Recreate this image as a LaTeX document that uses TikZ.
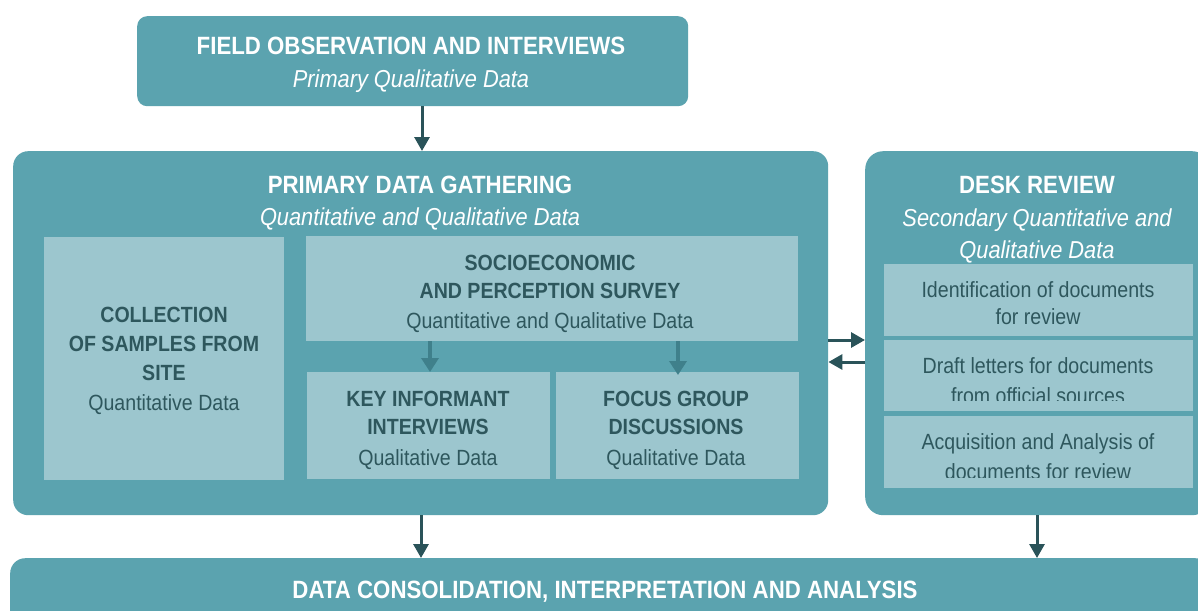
\documentclass[tikz,border=0pt]{standalone}
\usepackage{fontspec}
\setmainfont{Liberation Sans}[FakeStretch=0.89]
\usetikzlibrary{arrows.meta}
\definecolor{teal1}{HTML}{5BA3AF}
\definecolor{light1}{HTML}{9CC6CE}
\definecolor{dark1}{HTML}{2E575D}
\definecolor{arr1}{HTML}{2A5359}
\definecolor{arr2}{HTML}{3F808B}
\tikzset{
  outerbox/.style={fill=teal1, draw=none, rounded corners=#1, inner sep=0pt, anchor=north west},
  outerbox/.default=12pt,
  innerbox/.style={fill=light1, draw=none, inner sep=0pt, anchor=north west},
  wt/.style={text=white, anchor=base, inner sep=0pt, font=\fontsize{25}{30}\selectfont\bfseries},
  wi/.style={text=white, anchor=base, inner sep=0pt, font=\fontsize{24.5}{30}\selectfont\itshape},
  db/.style={text=dark1, anchor=base, inner sep=0pt, font=\fontsize{22}{28}\selectfont\bfseries},
  dr/.style={text=dark1, anchor=base, inner sep=0pt, font=\fontsize{22}{28}\selectfont},
  bigarrow/.style={draw=arr1, line width=3pt, -{Triangle[width=15pt,length=14pt]}},
  smallarrow/.style={draw=arr2, line width=4pt, -{Triangle[width=17pt,length=14pt]}},
}
\begin{document}
\begin{tikzpicture}[x=1pt,y=-1pt]
\useasboundingbox (0,0) rectangle (1198,610);
\clip (0,0) rectangle (1198,610);
\fill[white] (0,0) rectangle (1198,610);
% outer boxes
\node[outerbox=10pt, minimum width=551pt, minimum height=90pt] (field) at (137,16) {};
\node[outerbox=15pt, minimum width=815pt, minimum height=364pt] (prim) at (13,151) {};
\node[outerbox=18pt, minimum width=345pt, minimum height=364pt] (desk) at (865,151) {};
\node[outerbox=15pt, minimum width=1200pt, minimum height=90pt] (cons) at (10,558) {};
% inner boxes
\node[innerbox, minimum width=240pt, minimum height=243pt] (coll) at (44,237) {};
\node[innerbox, minimum width=492pt, minimum height=105pt] (socio) at (306,236) {};
\node[innerbox, minimum width=243pt, minimum height=107pt] (key) at (307,372) {};
\node[innerbox, minimum width=243pt, minimum height=107pt] (focus) at (556,372) {};
\node[innerbox, minimum width=309pt, minimum height=72pt] (d1) at (884,264) {};
\node[innerbox, minimum width=309pt, minimum height=71pt] (d2) at (884,340) {};
\node[innerbox, minimum width=309pt, minimum height=72pt] (d3) at (884,416) {};
% texts
\node[wt] (fieldT) at (411,55) {FIELD OBSERVATION AND INTERVIEWS};
\node[wi] (fieldS) at (411,87) {Primary Qualitative Data};
\node[wt] (primT) at (420,193) {PRIMARY DATA GATHERING};
\node[wi] (primS) at (420,225) {Quantitative and Qualitative Data};
\node[wt] (deskT) at (1037,193) {DESK REVIEW};
\node[wi] (deskS1) at (1037,226) {Secondary Quantitative and};
\node[wi] (deskS2) at (1037,258) {Qualitative Data};
\node[wt] (consT) at (605,598) {DATA CONSOLIDATION, INTERPRETATION AND ANALYSIS};
\node[db] (collT1) at (164,322) {COLLECTION};
\node[db] (collT2) at (164,351) {OF SAMPLES FROM};
\node[db] (collT3) at (164,380) {SITE};
\node[dr] (collS) at (164,410) {Quantitative Data};
\node[db] (socioT1) at (550,270) {SOCIOECONOMIC};
\node[db] (socioT2) at (550,298) {AND PERCEPTION SURVEY};
\node[dr] (socioS) at (550,328) {Quantitative and Qualitative Data};
\node[db] (keyT1) at (428,406) {KEY INFORMANT};
\node[db] (keyT2) at (428,434) {INTERVIEWS};
\node[dr] (keyS) at (428,465) {Qualitative Data};
\node[db] (focusT1) at (676,406) {FOCUS GROUP};
\node[db] (focusT2) at (676,434) {DISCUSSIONS};
\node[dr] (focusS) at (676,465) {Qualitative Data};
\begin{scope}
\clip (884,264) rectangle (1193,326);
\node[dr] (d1a) at (1038,297) {Identification of documents};
\node[dr] (d1b) at (1038,324) {for review};
\end{scope}
\begin{scope}
\clip (884,340) rectangle (1193,400);
\node[dr] (d2a) at (1038,373) {Draft letters for documents};
\node[dr] (d2b) at (1038,403) {from official sources};
\end{scope}
\begin{scope}
\clip (884,416) rectangle (1193,477);
\node[dr] (d3a) at (1038,449) {Acquisition and Analysis of};
\node[dr] (d3b) at (1038,479) {documents for review};
\end{scope}
% connectors
\draw[bigarrow] (field.south -| 422,0) -- (prim.north -| 422,0);
\draw[bigarrow] (prim.south -| 421,0) -- (cons.north -| 421,0);
\draw[bigarrow] (desk.south -| 1037,0) -- (cons.north -| 1037,0);
\draw[bigarrow] (prim.east |- 0,340) -- (desk.west |- 0,340);
\draw[bigarrow] (desk.west |- 0,362) -- (prim.east |- 0,362);
\draw[smallarrow] (socio.south -| 430,0) -- (key.north -| 430,0);
\draw[smallarrow] (socio.south -| 678,0) -- ([yshift=-3pt]focus.north -| 678,0);
\end{tikzpicture}
\end{document}
